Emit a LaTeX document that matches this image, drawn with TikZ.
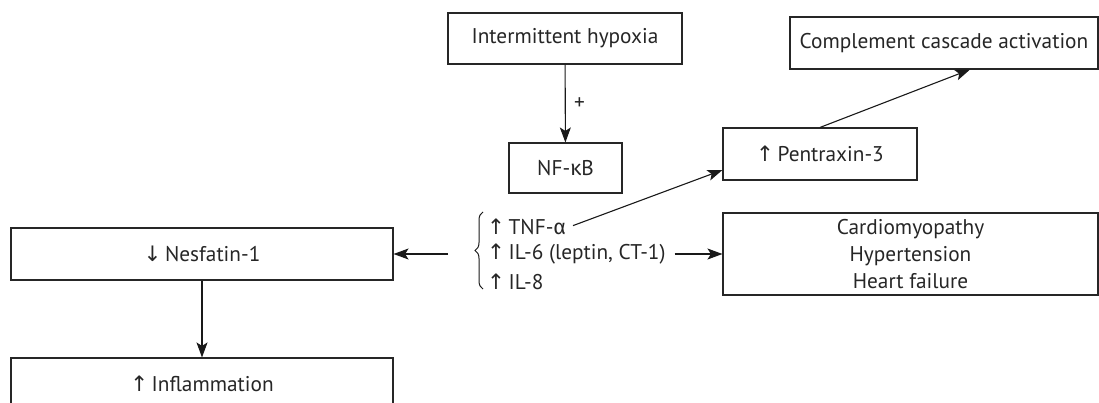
\documentclass[tikz,border=0pt]{standalone}
\usepackage{fontspec}
\setmainfont{PT Sans}
\newfontfamily\arrfont{DejaVu Sans}
\newfontfamily\grk{Fira Sans}
\usetikzlibrary{arrows.meta,decorations.pathreplacing}
\newcommand{\upa}{{\arrfont ↑}\,}
\newcommand{\dna}{{\arrfont ↓}\,}
\begin{document}
\begin{tikzpicture}[x=1pt,y=-1pt,
  font=\fontsize{21.3}{27}\selectfont,
  every node/.style={text=black!85},
  box/.style={draw=black!85, line width=1.1pt, inner sep=0pt, align=center},
  lbl/.style={inner sep=3pt, anchor=west},
  conn/.style={draw=black!90, line width=1.1pt, -{Stealth[length=15pt,width=11pt,inset=3.5pt]}},
  plain/.style={draw=black!90, line width=1.1pt}]
\useasboundingbox (0,0) rectangle (1099,403);
% boxes
\node[box, minimum width=234pt, minimum height=51pt] (hyp) at (565,38.5) {Intermittent hypoxia};
\node[box, minimum width=113pt, minimum height=50pt] (nfkb) at (565.5,168) {NF-{\grk κ}B};
\node[box, minimum width=194pt, minimum height=52pt] (ptx) at (820,154) {\upa Pentraxin-3};
\node[box, minimum width=308pt, minimum height=52pt] (comp) at (944,43) {Complement cascade activation};
\node[box, minimum width=382pt, minimum height=52pt] (nes) at (202,254) {\dna Nesfatin-1};
\node[box, minimum width=382pt, minimum height=52pt] (infl) at (202,384) {\upa Inflammation};
\node[box, minimum width=375pt, minimum height=82pt] (cardio) at (910.5,254) {Cardiomyopathy\\Hypertension\\Heart failure};
% cytokines
\node[lbl] (tnf) at (484,227) {\upa TNF-{\grk α}};
\node[lbl] (il6) at (484,254) {\upa IL-6 (leptin, CT-1)};
\node[lbl] (il8) at (484,282) {\upa IL-8};
\coordinate (bl) at (448,254);
\coordinate (bb) at (483,289);
\coordinate (bt) at (483,212);
\draw[plain, line width=1pt, decorate, decoration={brace, amplitude=8pt}] (bb) -- (bt);
% connectors
\draw[conn] (hyp) -- node[right=5pt, pos=0.5] {+} (nfkb);
\draw[conn] (bl) -- (nes.east);
\draw[conn] (nes) -- (infl);
\draw[conn, shorten <=4pt] (tnf.east) -- ([yshift=-16pt]ptx.west);
\draw[conn] (ptx.north) -- ([xshift=26pt]comp.south);
\draw[conn, shorten <=6pt] (il6.east) -- (cardio.west);
\end{tikzpicture}
\end{document}
